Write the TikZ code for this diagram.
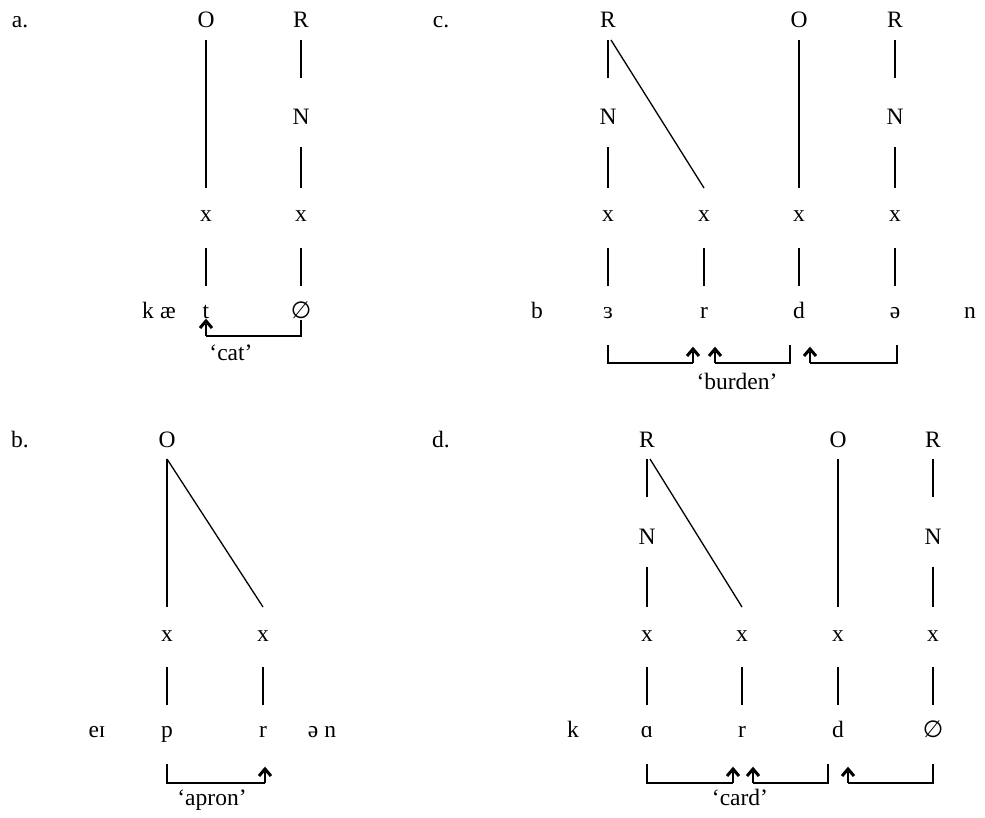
\documentclass[tikz,border=0pt]{standalone}
\usepackage{fontspec}
\setmainfont{Liberation Serif}
\newfontfamily\dejavu{DejaVu Sans}
\begin{document}
\begin{tikzpicture}[x=1pt,y=-1pt,
  lab/.style={inner sep=0pt, text height=16pt, text depth=5pt, anchor=base, font=\fontsize{23.5pt}{27pt}\selectfont},
  ln/.style={line width=1.3pt},
  lx/.style={ln, shorten <=17.5pt, shorten >=28.5pt},
  ln1/.style={ln, shorten <=17.5pt, shorten >=41.5pt},
  nx/.style={ln, shorten <=28pt, shorten >=28.5pt},
  xs/.style={ln, shorten <=31.5pt, shorten >=26.5pt},
  brk/.style={line width=1.3pt},
  stem/.style={line width=2.6pt},
  chev/.style={line width=3pt, line join=miter, miter limit=10}
]
\useasboundingbox (0,0) rectangle (985,818);
\newcommand{\uparr}[2]{%
  \draw[stem] (#1) -- ([shift={(0,3)}]#2);
  \draw[chev] ([shift={(-6,7)}]#2) -- (#2) -- ([shift={(6,7)}]#2);}

% ---------------- panel a ----------------
\node[lab] (aLbl) at (20,28) {a.};
\node[lab] (aO) at (206,28) {O};
\node[lab] (aR) at (301,28) {R};
\node[lab] (aN) at (301,125) {N};
\node[lab] (ax1) at (206,222) {x};
\node[lab] (ax2) at (301,222) {x};
\node[lab] (ak) at (148,318) {k};
\node[lab] (aae) at (168,318) {æ};
\node[lab] (at) at (206,318) {t};
\node[lab] (anull) at (301,318) {\dejavu ∅};
\draw[lx] (aO.center) -- (ax1.center);
\draw[ln1] (aR.center) -- (aN.center);
\draw[nx] (aN.center) -- (ax2.center);
\draw[xs] (ax1.center) -- (at.center);
\draw[xs] (ax2.center) -- (anull.center);
\coordinate (aB1) at (301,320);
\coordinate (aB2) at (301,336);
\coordinate (aB3) at (206,336);
\coordinate (aB4) at (206,321);
\draw[brk] (aB1) -- (aB2) -- (aB3);
\uparr{aB3}{aB4}
\node[lab] (acat) at (231,360) {‘cat’};

% ---------------- panel c ----------------
\node[lab] (cLbl) at (441,28) {c.};
\node[lab] (cR1) at (608,28) {R};
\node[lab] (cO) at (799,28) {O};
\node[lab] (cR2) at (895,28) {R};
\node[lab] (cN1) at (608,125) {N};
\node[lab] (cN2) at (895,125) {N};
\node[lab] (cx1) at (608,222) {x};
\node[lab] (cx2) at (704,222) {x};
\node[lab] (cx3) at (799,222) {x};
\node[lab] (cx4) at (895,222) {x};
\node[lab] (cb) at (537,318) {b};
\node[lab] (cs1) at (608,318) {ɜ};
\node[lab] (cs2) at (704,318) {r};
\node[lab] (cs3) at (799,318) {d};
\node[lab] (cs4) at (895,318) {ə};
\node[lab] (cn) at (970,318) {n};
\draw[ln1] (cR1.center) -- (cN1.center);
\draw[ln] ([shift={(3,17.5)}]cR1.center) -- ([shift={(0,-28.5)}]cx2.center);
\draw[nx] (cN1.center) -- (cx1.center);
\draw[lx] (cO.center) -- (cx3.center);
\draw[ln1] (cR2.center) -- (cN2.center);
\draw[nx] (cN2.center) -- (cx4.center);
\draw[xs] (cx1.center) -- (cs1.center);
\draw[xs] (cx2.center) -- (cs2.center);
\draw[xs] (cx3.center) -- (cs3.center);
\draw[xs] (cx4.center) -- (cs4.center);
\coordinate (cB1) at (608,345);
\coordinate (cB2) at (608,363);
\coordinate (cB3) at (693,363);
\coordinate (cB4) at (693,349);
\coordinate (cB5) at (790,345);
\coordinate (cB6) at (790,363);
\coordinate (cB7) at (715,363);
\coordinate (cB8) at (715,349);
\coordinate (cB9) at (897,345);
\coordinate (cB10) at (897,363);
\coordinate (cB11) at (810,363);
\coordinate (cB12) at (810,349);
\draw[brk] (cB1) -- (cB2) -- (cB3);
\uparr{cB3}{cB4}
\draw[brk] (cB5) -- (cB6) -- (cB7);
\uparr{cB7}{cB8}
\draw[brk] (cB9) -- (cB10) -- (cB11);
\uparr{cB11}{cB12}
\node[lab] (cburden) at (737,389) {‘burden’};

% ---------------- panel b ----------------
\node[lab] (bLbl) at (20,447) {b.};
\node[lab] (bO) at (167,447) {O};
\node[lab] (bx1) at (167,641) {x};
\node[lab] (bx2) at (263,641) {x};
\node[lab] (bei) at (97,737) {eɪ};
\node[lab] (bp) at (167,737) {p};
\node[lab] (br) at (263,737) {r};
\node[lab] (ben) at (322,737) {ə n};
\draw[lx] (bO.center) -- (bx1.center);
\draw[ln] ([shift={(0,17.5)}]bO.center) -- ([shift={(0,-28.5)}]bx2.center);
\draw[xs] (bx1.center) -- (bp.center);
\draw[xs] (bx2.center) -- (br.center);
\coordinate (bB1) at (167,764);
\coordinate (bB2) at (167,783);
\coordinate (bB3) at (265,783);
\coordinate (bB4) at (265,769);
\draw[brk] (bB1) -- (bB2) -- (bB3);
\uparr{bB3}{bB4}
\node[lab] (bapron) at (212,805) {‘apron’};

% ---------------- panel d ----------------
\node[lab] (dLbl) at (441,447) {d.};
\node[lab] (dR1) at (647,447) {R};
\node[lab] (dO) at (838,447) {O};
\node[lab] (dR2) at (933,447) {R};
\node[lab] (dN1) at (647,544) {N};
\node[lab] (dN2) at (933,544) {N};
\node[lab] (dx1) at (647,641) {x};
\node[lab] (dx2) at (742,641) {x};
\node[lab] (dx3) at (838,641) {x};
\node[lab] (dx4) at (933,641) {x};
\node[lab] (dk) at (573,737) {k};
\node[lab] (ds1) at (647,737) {ɑ};
\node[lab] (ds2) at (742,737) {r};
\node[lab] (ds3) at (838,737) {d};
\node[lab] (ds4) at (933,737) {\dejavu ∅};
\draw[ln1] (dR1.center) -- (dN1.center);
\draw[ln] ([shift={(3,17.5)}]dR1.center) -- ([shift={(0,-28.5)}]dx2.center);
\draw[nx] (dN1.center) -- (dx1.center);
\draw[lx] (dO.center) -- (dx3.center);
\draw[ln1] (dR2.center) -- (dN2.center);
\draw[nx] (dN2.center) -- (dx4.center);
\draw[xs] (dx1.center) -- (ds1.center);
\draw[xs] (dx2.center) -- (ds2.center);
\draw[xs] (dx3.center) -- (ds3.center);
\draw[xs] (dx4.center) -- (ds4.center);
\coordinate (dB1) at (647,764);
\coordinate (dB2) at (647,783);
\coordinate (dB3) at (733,783);
\coordinate (dB4) at (733,769);
\coordinate (dB5) at (828,764);
\coordinate (dB6) at (828,783);
\coordinate (dB7) at (753,783);
\coordinate (dB8) at (753,769);
\coordinate (dB9) at (933,764);
\coordinate (dB10) at (933,783);
\coordinate (dB11) at (848,783);
\coordinate (dB12) at (848,769);
\draw[brk] (dB1) -- (dB2) -- (dB3);
\uparr{dB3}{dB4}
\draw[brk] (dB5) -- (dB6) -- (dB7);
\uparr{dB7}{dB8}
\draw[brk] (dB9) -- (dB10) -- (dB11);
\uparr{dB11}{dB12}
\node[lab] (dcard) at (740,805) {‘card’};
\end{tikzpicture}
\end{document}
